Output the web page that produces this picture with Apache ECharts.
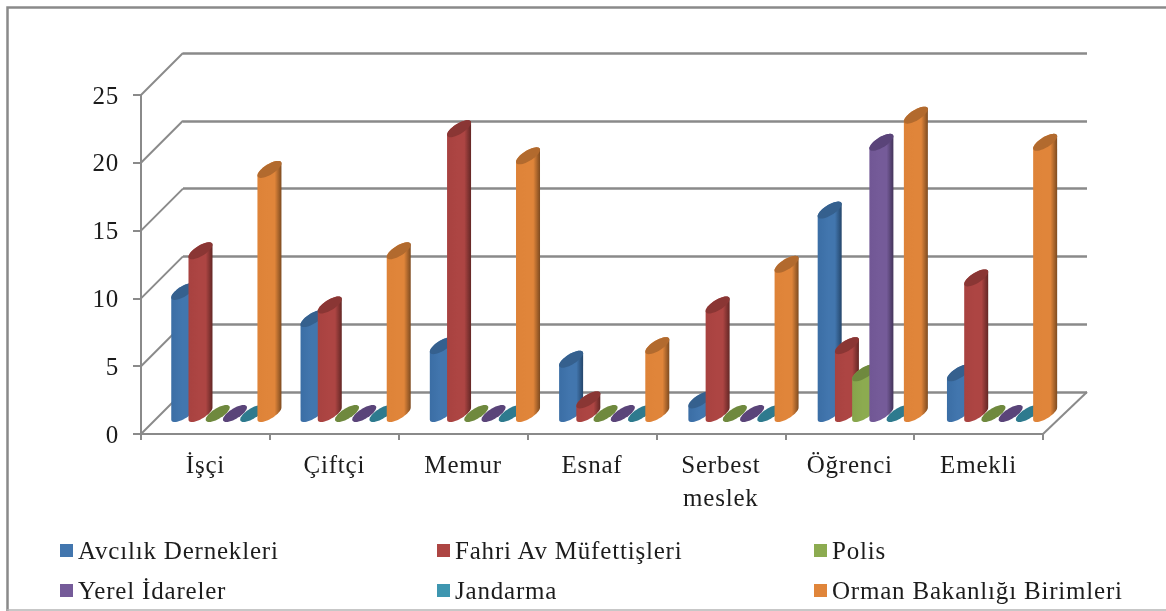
<!DOCTYPE html>
<html><head><meta charset="utf-8">
<style>
html,body{margin:0;padding:0;background:#fff}
#c{width:1166px;height:611px;filter:blur(.35px)}
#c text{letter-spacing:.8px}
</style>
<script src="https://cdn.jsdelivr.net/npm/echarts@6/dist/echarts.min.js"></script>
</head><body><div id="c"></div>
<script>
const categories = ['İşçi','Çiftçi','Memur','Esnaf','Serbest\nmeslek','Öğrenci','Emekli'];
const avcilik = [9,7,5,4,1,15,3];
const fahri   = [12,8,21,1,8,5,10];
const polis   = [0,0,0,0,0,3,0];
const yerel   = [0,0,0,0,0,20,0];
const jandarma= [0,0,0,0,0,0,0];
const orman   = [18,12,19,5,11,22,20];
const yTicks  = [0,5,10,15,20,25];
const seriesDefs = [
  {name:'Avcılık Dernekleri', values:avcilik, color:'#4276AE', light:'#3B6EA5', dark:'#24466B', top:'#35608E'},
  {name:'Fahri Av Müfettişleri', values:fahri, color:'#AD4543', light:'#A84240', dark:'#632725', top:'#8A3634'},
  {name:'Polis', values:polis, color:'#8CAB50', light:'#86A44B', dark:'#56692F', top:'#6F893E'},
  {name:'Yerel İdareler', values:yerel, color:'#755B99', light:'#715795', dark:'#43345A', top:'#5A4479'},
  {name:'Jandarma', values:jandarma, color:'#3E96B0', light:'#3A90AA', dark:'#235767', top:'#2E7A8E'},
  {name:'Orman Bakanlığı Birimleri', values:orman, color:'#E0853A', light:'#DE8338', dark:'#7E4B20', top:'#B26A2E'}
];
const AXIS='#8A8A8A', TEXT='#1c1c1c', FONT='"Liberation Serif","Times New Roman",serif';
const DEPTH=42, BAR_W=12, SHEAR_X=8.6, SHEAR_Y=8.5, STEP_FRAC=17.2/129;
const AX=Math.sqrt(BAR_W*BAR_W-SHEAR_X*SHEAR_X);

function disc(cx,cy,t0,t1,n){
  const pts=[];
  for(let i=0;i<=n;i++){
    const t=t0+(t1-t0)*i/n;
    pts.push([cx+AX*Math.cos(t)+SHEAR_X*Math.sin(t), cy-SHEAR_Y*Math.sin(t)]);
  }
  return pts;
}
function cylinder(def,idx){
  return function(params,api){
    const cat=api.value(0), v=api.value(1);
    const step=api.size([1,0])[0]*STEP_FRAC;
    const base=api.coord([cat,0]), top=api.coord([cat,v]);
    const cx=base[0]+(idx-2.5)*step, yb=base[1], yt=top[1];
    const star=Math.atan2(SHEAR_X,AX);
    const children=[];
    if(v>0){
      const bottom=disc(cx,yb,star+Math.PI,star+2*Math.PI,24);
      const upper=disc(cx,yt,star,star+Math.PI,24);
      children.push({type:'polygon',shape:{points:bottom.concat(upper)},style:{fill:{type:'linear',x:0,y:0,x2:1,y2:0,colorStops:[
        {offset:0,color:def.light},{offset:.45,color:def.color},{offset:.72,color:def.color},{offset:1,color:def.dark}]}}});
    }
    children.push({type:'polygon',shape:{points:disc(cx,yt,0,2*Math.PI,40)},style:{fill:def.top}});
    return {type:'group',children};
  };
}
const barSeries=seriesDefs.map((d,i)=>({
  name:d.name,type:'custom',xAxisIndex:2,yAxisIndex:2,coordinateSystem:'cartesian2d',clip:false,
  itemStyle:{color:d.color},encode:{x:0,y:1},z:5+i,silent:true,
  data:d.values.map((v,c)=>[c,v]),renderItem:cylinder(d,i)
}));
const wallSeries={type:'custom',xAxisIndex:0,yAxisIndex:0,silent:true,z:1,clip:false,
  data:yTicks.map(v=>[0,v]),encode:{x:0,y:1},
  renderItem(params,api){
    const y=api.coord([0,api.value(1)])[1], cs=params.coordSys, st={stroke:AXIS,lineWidth:2,fill:null};
    const ch=[{type:'line',shape:{x1:cs.x,y1:y,x2:cs.x+DEPTH,y2:y-DEPTH},style:st}];
    if(api.value(1)===0) ch.push({type:'line',shape:{x1:cs.x+cs.width,y1:y,x2:cs.x+cs.width+DEPTH+2,y2:y-DEPTH},style:st});
    return {type:'group',children:ch};
  }};
const legendStyle={fontFamily:FONT,fontSize:25,color:TEXT};
function legend(left,items){
  return {left,top:538,orient:'vertical',padding:0,icon:'rect',itemWidth:13,itemHeight:13,itemGap:15,
    selectedMode:false,data:items,textStyle:legendStyle};
}
const chart=echarts.init(document.getElementById('c'),null,{renderer:'svg',width:1166,height:611});
const hiddenX=g=>({gridIndex:g,type:'category',data:categories,show:false});
chart.setOption({
  animation:false,backgroundColor:'#fff',
  graphic:[
    {type:'polyline',z:-1,shape:{points:[[7.5,611],[7.5,7.5],[1166,7.5]]},style:{fill:null,stroke:'#8A8A8A',lineWidth:2.5}},
    {type:'line',z:-1,shape:{x1:7,y1:610,x2:1166,y2:610},style:{stroke:'#B5B5B5',lineWidth:1.5}}
  ],
  grid:[
    {left:141,top:95,width:902,height:339},
    {left:183,top:53,width:904,height:339},
    {left:161.7,top:74.5,width:905,height:339}
  ],
  xAxis:[
    {gridIndex:0,type:'category',data:categories,
     axisLine:{lineStyle:{color:AXIS,width:2}},axisTick:{show:true,length:6,lineStyle:{color:AXIS,width:2}},
     axisLabel:{fontFamily:FONT,fontSize:25,color:TEXT,margin:14,lineHeight:33,interval:0}},
    {gridIndex:1,type:'category',data:categories,axisLine:{show:false},axisTick:{show:false},axisLabel:{show:false},splitLine:{show:false}},
    hiddenX(2)
  ],
  yAxis:[
    {gridIndex:0,type:'value',min:0,max:25,interval:5,splitLine:{show:false},
     axisLine:{show:true,lineStyle:{color:AXIS,width:2}},axisTick:{show:true,length:8,lineStyle:{color:AXIS,width:2}},
     axisLabel:{fontFamily:FONT,fontSize:25,color:TEXT,margin:22}},
    {gridIndex:1,type:'value',min:0,max:25,interval:5,axisLine:{show:false},axisTick:{show:false},axisLabel:{show:false},
     splitLine:{show:true,lineStyle:{color:AXIS,width:2.5}}},
    {gridIndex:2,type:'value',min:0,max:25,interval:5,show:false}
  ],
  legend:[
    legend(60,[seriesDefs[0].name,seriesDefs[3].name]),
    legend(437,[seriesDefs[1].name,seriesDefs[4].name]),
    legend(814,[seriesDefs[2].name,seriesDefs[5].name])
  ],
  series:[wallSeries].concat(barSeries)
});
</script></body></html>
